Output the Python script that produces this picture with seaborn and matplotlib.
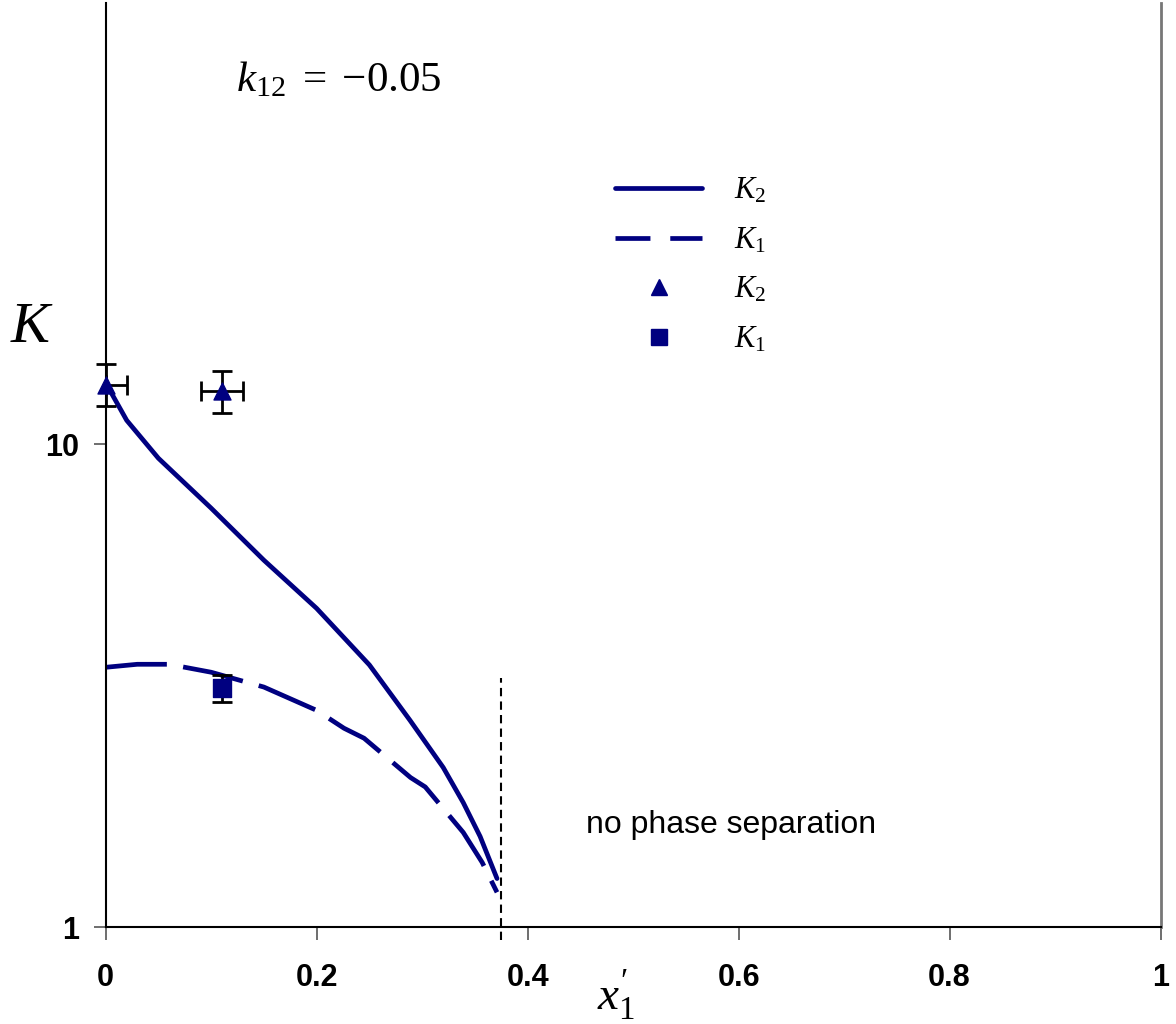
import numpy as np
import pandas as pd
import matplotlib
matplotlib.use("Agg")
import matplotlib.pyplot as plt
import seaborn as sns
from matplotlib.lines import Line2D

# Model curves
x_k2 = [0.0, 0.02, 0.05, 0.10, 0.15, 0.20, 0.25, 0.2885, 0.32, 0.339, 0.355, 0.371]
k2_model = [13.4, 11.2, 9.35, 7.37, 5.75, 4.57, 3.49, 2.68, 2.14, 1.81, 1.54, 1.26]

x_k1 = [0.0, 0.03, 0.06, 0.10, 0.15, 0.20, 0.226, 0.245, 0.289, 0.303, 0.32, 0.339, 0.357, 0.371]
k1_model = [3.45, 3.50, 3.50, 3.37, 3.14, 2.81, 2.58, 2.46, 2.04, 1.95, 1.76, 1.57, 1.36, 1.18]

# Experimental points
x_k2_exp = [0.0, 0.1106]
k2_exp = [13.25, 12.9]
k2_err_lo = [1.27, 1.3]
k2_err_hi = [1.39, 1.3]
x_k2_xerr_lo = [0.0, 0.02]
x_k2_xerr_hi = [0.02, 0.02]

x_k1_exp = [0.110]
k1_exp = [3.12]
k1_err_lo = [0.20]
k1_err_hi = [0.20]

# Phase boundary
x_boundary = 0.375
k_boundary = [0.94, 3.28]

navy = "#000080"

sns.set_style("white")
plt.rcParams["mathtext.fontset"] = "custom"
plt.rcParams["mathtext.rm"] = "Liberation Serif"
plt.rcParams["mathtext.it"] = "Liberation Serif:italic"
plt.rcParams["text.color"] = "black"

fig = plt.figure(figsize=(11.76, 10.24), dpi=100)
ax = fig.add_axes([0.0898, 0.0947, 0.8971, 0.9023])
ax.set_yscale("log")

df_k2 = pd.DataFrame({"x": x_k2, "K": k2_model})
df_k1 = pd.DataFrame({"x": x_k1, "K": k1_model})
sns.lineplot(data=df_k2, x="x", y="K", ax=ax, color=navy, lw=3.4,
             sort=False, solid_capstyle="round")
sns.lineplot(data=df_k1, x="x", y="K", ax=ax, color=navy, lw=3.4,
             sort=False, dashes=False)
ax.lines[-1].set_dashes((13, 3.5))

# error bars first, markers on top
eb = ax.errorbar(x_k2_exp, k2_exp, yerr=[k2_err_lo, k2_err_hi],
                 xerr=[x_k2_xerr_lo, x_k2_xerr_hi],
                 fmt="none", ecolor="black", elinewidth=2, capsize=7, capthick=2,
                 zorder=3)
for part in eb.lines[1] + eb.lines[2]:
    part.set_clip_on(False)
eb2 = ax.errorbar(x_k1_exp, k1_exp, yerr=[k1_err_lo, k1_err_hi],
                  fmt="none", ecolor="black", elinewidth=2, capsize=7, capthick=2,
                  zorder=3)
sns.scatterplot(x=x_k2_exp, y=k2_exp, ax=ax, marker="^", s=150, color=navy,
                edgecolor=navy, zorder=4, clip_on=False)
sns.scatterplot(x=x_k1_exp, y=k1_exp, ax=ax, marker="s", s=150, color=navy,
                edgecolor=navy, zorder=4)

ax.plot([x_boundary, x_boundary], k_boundary, color="black", lw=1.5,
        dashes=(4, 2.5), clip_on=False, zorder=5)

ax.set_xlim(0, 1)
ax.set_ylim(1, 81.9)
ax.set_xticks([0, 0.2, 0.4, 0.6, 0.8, 1])
ax.set_xticklabels(["0", "0.2", "0.4", "0.6", "0.8", "1"])
ax.set_yticks([1, 10])
ax.set_yticklabels(["1", "10"])
ax.yaxis.set_minor_locator(matplotlib.ticker.NullLocator())
ax.tick_params(axis="both", which="major", direction="out", length=9,
               width=1.2, color="#555555", labelsize=22, labelcolor="black",
               bottom=True, left=True, pad=10)
ax.tick_params(axis="x", pad=17)
for lab in ax.get_xticklabels() + ax.get_yticklabels():
    lab.set_fontweight("bold")
    lab.set_fontfamily("Liberation Sans")

ax.set_xlabel("")
ax.set_ylabel("")
for side in ["left", "bottom"]:
    ax.spines[side].set_color("black")
    ax.spines[side].set_linewidth(1.5)
ax.spines["right"].set_color("#777777")
ax.spines["right"].set_linewidth(2)
ax.spines["top"].set_visible(False)

# axis titles and annotations
fig.text(32 / 1176, 1 - 325 / 1024, r"$K$", fontsize=42, ha="center", va="center")
fig.text(616 / 1176, 1 - 995 / 1024, r"$x_1^{\prime}$", fontsize=34, ha="center", va="center")
fig.text(236 / 1176, 1 - 79 / 1024, r"$k_{12}\ =\;{-}0.05$", fontsize=31, ha="left", va="center")
ax.text(0.455, 1.63, "no phase separation", fontsize=23, family="Liberation Sans",
        ha="left", va="center")

handles = [
    Line2D([], [], color=navy, lw=3.4, solid_capstyle="round"),
    Line2D([], [], color=navy, lw=3.4, dashes=(7.4, 4.2)),
    Line2D([], [], color=navy, lw=0, marker="^", markersize=11),
    Line2D([], [], color=navy, lw=0, marker="s", markersize=11),
]
labels = [r"$K_2$", r"$K_1$", r"$K_2$", r"$K_1$"]
ax.legend(handles, labels, loc="upper left", bbox_to_anchor=(0.457, 0.843),
          frameon=False, fontsize=22, handlelength=2.85, labelspacing=0.66,
          handletextpad=1.05)

fig.savefig("out.png", dpi=100)
